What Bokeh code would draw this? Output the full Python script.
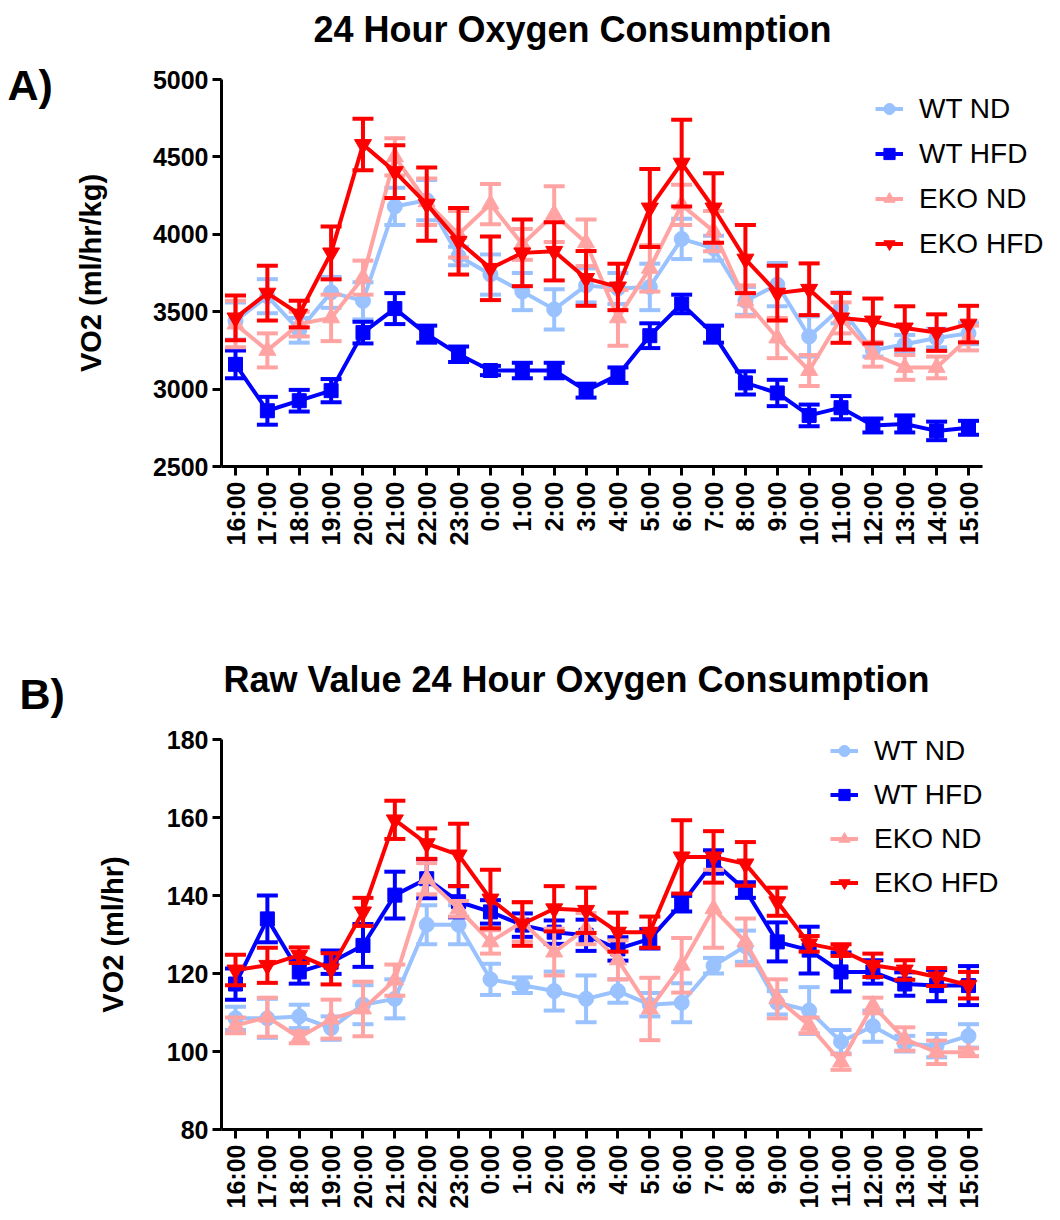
import math
from bokeh.plotting import figure
from bokeh.layouts import column
from bokeh.models import Range1d, FixedTicker, Label, Legend, LegendItem, ColumnDataSource
from bokeh.embed import file_html
from bokeh.resources import INLINE

# ---------------- data ----------------
hours = ["16:00", "17:00", "18:00", "19:00", "20:00", "21:00", "22:00", "23:00",
         "0:00", "1:00", "2:00", "3:00", "4:00", "5:00", "6:00", "7:00",
         "8:00", "9:00", "10:00", "11:00", "12:00", "13:00", "14:00", "15:00"]

series_names = ["WT ND", "WT HFD", "EKO ND", "EKO HFD"]

# Panel A: VO2 (ml/hr/kg)
a_wt_nd = [3440, 3600, 3380, 3625, 3570, 4180, 4220, 3860, 3740, 3630, 3515, 3670,
           3650, 3660, 3970, 3910, 3570, 3675, 3340, 3525, 3250, 3290, 3330, 3360]
a_wt_nd_err = [120, 110, 80, 100, 120, 120, 130, 60, 130, 120, 130, 110,
               100, 150, 130, 80, 90, 140, 130, 100, 40, 60, 60, 70]
a_wt_hfd = [3160, 2860, 2925, 2990, 3365, 3520, 3355, 3225, 3120, 3120, 3120, 2990,
            3090, 3345, 3550, 3355, 3040, 2975, 2830, 2880, 2765, 2775, 2730, 2750]
a_wt_hfd_err = [90, 90, 70, 75, 70, 100, 55, 50, 30, 50, 50, 45,
                50, 80, 60, 55, 75, 85, 70, 75, 45, 55, 60, 45]
a_eko_nd = [3420, 3250, 3420, 3460, 3720, 4500, 4210, 4000, 4195, 3935, 4130, 3945,
            3460, 3780, 4190, 4020, 3570, 3330, 3120, 3460, 3225, 3140, 3140, 3330]
a_eko_nd_err = [150, 110, 80, 150, 110, 120, 150, 150, 130, 100, 180, 150,
                180, 150, 130, 130, 100, 130, 100, 100, 80, 80, 70, 80]
a_eko_hfd = [3460, 3620, 3485, 3880, 4580, 4405, 4195, 3955, 3780, 3880, 3890, 3715,
             3660, 4170, 4460, 4170, 3840, 3620, 3645, 3460, 3440, 3395, 3365, 3420]
a_eko_hfd_err = [145, 177, 86, 171, 167, 171, 236, 215, 205, 215, 188, 177,
                 150, 252, 280, 225, 220, 177, 167, 161, 145, 140, 118, 118]

# Panel B: VO2 (ml/hr)
b_wt_nd = [108.5, 108.5, 109, 106, 112, 113.5, 132.5, 132.5, 118.5, 117, 115.5, 113.5,
           115.5, 112, 112.5, 122, 127, 112.5, 110.5, 102.5, 106.5, 102, 101.5, 104]
b_wt_nd_err = [3, 5, 3, 3, 5, 5, 5, 5, 4, 2, 5, 6, 3, 3, 5, 2, 4, 3, 6, 3, 4, 2, 3, 3]
b_wt_hfd = [117.3, 134, 120.4, 122.9, 127.2, 140.1, 144.3, 138.4, 135.8, 132.4, 130.6, 129.8,
            126.3, 128.9, 137.9, 148.6, 141.4, 128.1, 126, 120.4, 120.4, 117.3, 116.9, 116.9]
b_wt_hfd_err = [4, 6, 3, 3, 5.5, 6, 5, 4, 3, 3, 3, 4, 3, 2.5, 2, 3, 2, 5, 6, 5, 3, 3, 4, 5]
b_eko_nd = [106.7, 108.8, 103.6, 108.3, 110.9, 118.3, 144.3, 136.6, 128.1, 133.2, 125.5, 131.5,
            123.5, 110.9, 122.1, 136.6, 128.1, 113.5, 106.7, 97.3, 111.8, 103.2, 99.8, 99.8]
b_eko_nd_err = [2, 5, 1.5, 5, 7, 4, 4, 2, 3, 5, 6, 4, 5, 8, 7, 10, 6, 5, 2, 2, 2, 3, 3, 1]
b_eko_hfd = [120.9, 122.1, 124.7, 121.2, 135.8, 159.4, 153.3, 150.4, 139.1, 132.7, 136.6, 136.2,
             130.6, 130.6, 149.9, 149.9, 148.1, 138.4, 127.6, 126, 122.1, 120.9, 119.1, 117]
b_eko_hfd_err = [3.9, 4.5, 2, 4, 3.6, 4.9, 3.9, 8, 7.5, 5.6, 5.8, 5.8,
                 5, 4, 9.4, 6.6, 5.6, 3.6, 2, 1.5, 3, 2.5, 2.3, 3.4]

a_ticks = [2500, 3000, 3500, 4000, 4500, 5000]
b_ticks = [80, 100, 120, 140, 160, 180]

# ---------------- style / geometry (page pixels) ----------------
FONT = "Liberation Sans"
COLORS = ["#99C2FF", "#0000FF", "#FFA3A3", "#FF0000"]
MARKERS = ["circle", "square", "triangle", "inverted_triangle"]
MSIZES = [15, 14, 17, 17]
FIG_W = 1044
PAGE_L, PAGE_R = 8, 8 + FIG_W
AXIS_X = 229          # page x of the y axis line
AXIS_END_X = 990      # page x where the x axis line ends
FIRST_X, LAST_X = 243, 976   # page x of first / last category


def make_panel(vals, errs, yr, yticks, ylabel, title, letter, fig_top, height,
               y_px, legend_px, legend_spacing, label_standoff, title_px, letter_px):
    ppx = (LAST_X - FIRST_X) / (len(hours) - 1)
    x_start = -(FIRST_X - PAGE_L) / ppx
    x_end = (PAGE_R - FIRST_X) / ppx
    y_top_px, y_bot_px = y_px          # page y of yr[1] and yr[0]
    ppy = (y_bot_px - y_top_px) / (yr[1] - yr[0])
    fig_bot = fig_top + height
    y_start = yr[0] - (fig_bot - y_bot_px) / ppy
    y_end = yr[1] + (y_top_px - fig_top) / ppy

    def to_data(px, py):
        return (px - FIRST_X) / ppx, yr[0] + (y_bot_px - py) / ppy

    p = figure(width=FIG_W, height=height, output_backend="svg", toolbar_location=None,
               x_range=Range1d(x_start, x_end), y_range=Range1d(y_start, y_end),
               min_border=0)
    p.outline_line_color = None
    p.grid.visible = False
    p.background_fill_color = "white"

    axis_x_data = to_data(AXIS_X, 0)[0]
    axis_end_data = to_data(AXIS_END_X, 0)[0]

    for ax in (p.xaxis[0], p.yaxis[0]):
        ax.axis_line_width = 3
        ax.axis_line_color = "black"
        ax.major_tick_line_width = 3
        ax.major_tick_line_color = "black"
        ax.major_tick_out = 9
        ax.major_tick_in = 0
        ax.minor_tick_line_color = None
        ax.major_label_text_font = FONT
        ax.major_label_text_font_style = "bold"
        ax.major_label_text_font_size = "25px"
        ax.major_label_text_color = "black"
        ax.major_label_standoff = 4

    xa = p.xaxis[0]
    xa.ticker = FixedTicker(ticks=list(range(len(hours))))
    xa.major_label_overrides = {i: h for i, h in enumerate(hours)}
    xa.major_label_orientation = math.pi / 2
    xa.major_label_standoff = 6
    xa.fixed_location = yr[0]
    xa.bounds = (axis_x_data, axis_end_data)

    ya = p.yaxis[0]
    ya.ticker = FixedTicker(ticks=yticks)
    ya.fixed_location = axis_x_data
    ya.bounds = (yr[0], yr[1])
    ya.axis_label = ylabel
    ya.axis_label_text_font = FONT
    ya.axis_label_text_font_style = "bold"
    ya.axis_label_text_font_size = "29px"
    ya.axis_label_text_color = "black"
    ya.axis_label_standoff = label_standoff

    xs = list(range(len(hours)))
    items = []
    for i, name in enumerate(series_names):
        v = vals[i]
        e = errs[i]
        src = ColumnDataSource(dict(x=xs, y=v,
                                    lo=[a - b for a, b in zip(v, e)],
                                    hi=[a + b for a, b in zip(v, e)]))
        c = COLORS[i]
        lr = p.line("x", "y", source=src, line_color=c, line_width=4)
        p.segment(x0="x", y0="lo", x1="x", y1="hi", source=src, line_color=c, line_width=4)
        p.scatter("x", "hi", source=src, marker="dash", size=21, line_color=c, line_width=4)
        p.scatter("x", "lo", source=src, marker="dash", size=21, line_color=c, line_width=4)
        sr = p.scatter("x", "y", source=src, marker=MARKERS[i], size=MSIZES[i],
                       fill_color=c, line_color=c, line_width=1)
        items.append(LegendItem(label=name, renderers=[lr, sr]))

    gx, gy_top = legend_px
    entry_h = 33
    leg_h = 4 * entry_h + 3 * legend_spacing
    legend = Legend(items=items, location=(gx - PAGE_L, fig_bot - (gy_top + leg_h)),
                    label_text_font=FONT, label_text_font_size="28px",
                    label_text_color="black", label_height=entry_h, glyph_height=entry_h,
                    glyph_width=28, label_standoff=16, spacing=legend_spacing,
                    padding=0, margin=0, border_line_color=None,
                    background_fill_alpha=0)
    p.add_layout(legend)

    tx, ty = to_data(*title_px)
    p.add_layout(Label(x=tx, y=ty, text=title, text_align="center", text_baseline="middle",
                       text_font=FONT, text_font_style="bold",
                       text_font_size="36px", text_color="black"))
    lx, ly = to_data(*letter_px)
    p.add_layout(Label(x=lx, y=ly, text=letter, text_align="left", text_baseline="middle",
                       text_font=FONT, text_font_style="bold",
                       text_font_size="43px", text_color="black"))
    return p


pa = make_panel([a_wt_nd, a_wt_hfd, a_eko_nd, a_eko_hfd],
                [a_wt_nd_err, a_wt_hfd_err, a_eko_nd_err, a_eko_hfd_err],
                (2500, 5000), a_ticks, "VO2 (ml/hr/kg)", "24 Hour Oxygen Consumption", "A)",
                fig_top=8, height=600, y_px=(87, 474),
                legend_px=(883, 100), legend_spacing=12, label_standoff=43,
                title_px=(580, 37), letter_px=(15, 92))

pb = make_panel([b_wt_nd, b_wt_hfd, b_eko_nd, b_eko_hfd],
                [b_wt_nd_err, b_wt_hfd_err, b_eko_nd_err, b_eko_hfd_err],
                (80, 180), b_ticks, "VO2 (ml/hr)", "Raw Value 24 Hour Oxygen Consumption", "B)",
                fig_top=608, height=608, y_px=(747, 1137),
                legend_px=(838, 742), legend_spacing=11, label_standoff=35,
                title_px=(584, 687), letter_px=(27, 701))

layout = column(pa, pb, spacing=0)
open("out.html", "w").write(file_html(layout, INLINE))
